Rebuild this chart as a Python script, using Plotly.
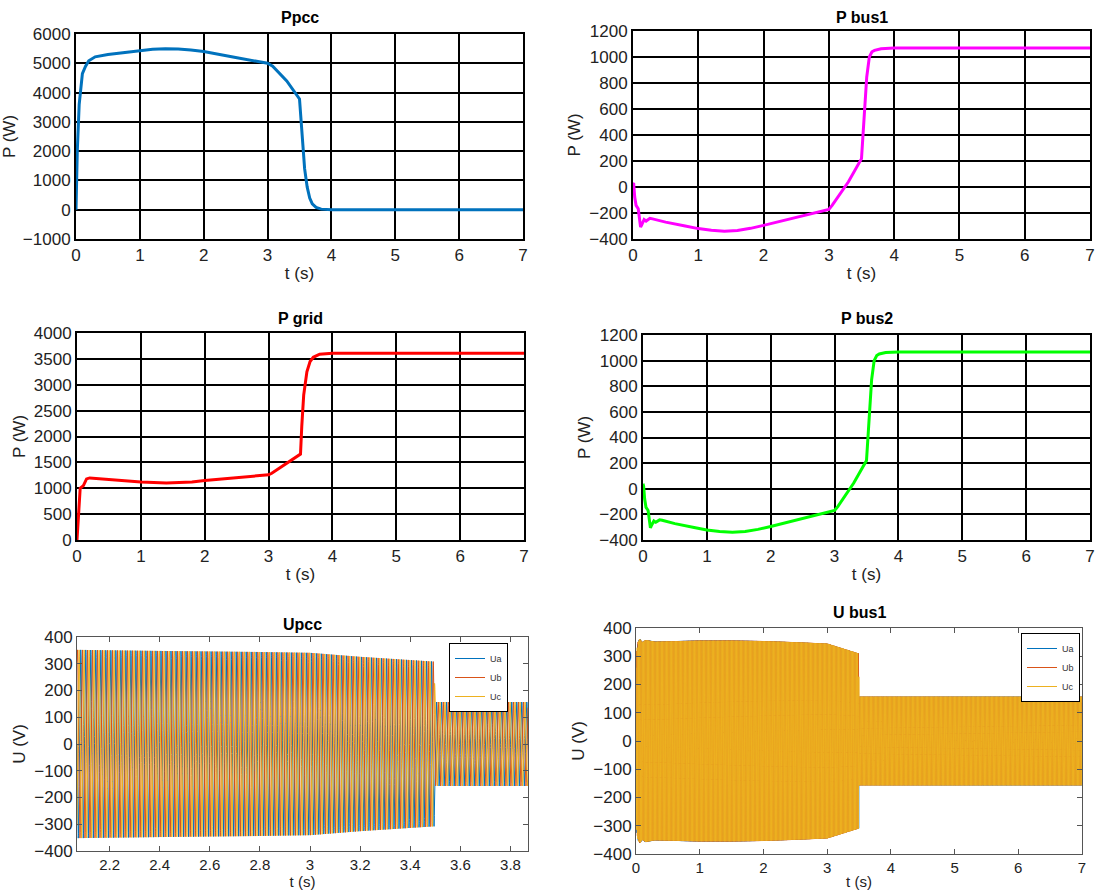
import numpy as np
import plotly.graph_objects as go

W, H = 1101, 890

# ---------------- data ----------------
t_ppcc = [0, 0.02, 0.05, 0.1, 0.15, 0.2, 0.3, 0.5, 0.8, 1.0, 1.2, 1.4, 1.6, 1.8, 2.0, 2.5,
          3.0, 3.08, 3.3, 3.5, 3.52, 3.55, 3.58, 3.62, 3.66, 3.7, 3.76, 3.84, 4.0, 5.0, 6.0, 7.0]
p_ppcc = [0, 2000, 3600, 4650, 4900, 5085, 5220, 5300, 5380, 5440, 5480, 5500, 5490, 5450, 5400, 5200,
          5000, 4900, 4400, 3780, 3100, 2200, 1400, 780, 400, 200, 80, 20, 0, 0, 0, 0]

t_bus1 = [0, 0.01, 0.026, 0.047, 0.08, 0.1, 0.116, 0.13, 0.14, 0.17, 0.2, 0.22, 0.26, 0.3, 0.35,
          0.5, 0.8, 1.0, 1.2, 1.4, 1.6, 1.8, 2.0, 2.5, 3.0, 3.05, 3.3, 3.5, 3.52, 3.55, 3.58,
          3.62, 3.66, 3.7, 3.8, 4.0, 7.0]
p_bus1 = [25, 30, -77, -141, -167, -230, -308, -295, -282, -251, -262, -256, -241, -245, -251,
          -270, -300, -320, -333, -341, -335, -318, -295, -231, -172, -141, 40, 218, 385, 641, 846,
          1000, 1040, 1051, 1064, 1069, 1069]

t_grid = [0, 0.05, 0.1, 0.15, 0.2, 0.3, 0.6, 1.0, 1.4, 1.8, 2.0, 2.5, 3.0, 3.05, 3.5, 3.52,
          3.55, 3.6, 3.65, 3.7, 3.8, 4.0, 7.0]
p_grid = [0, 1000, 1050, 1180, 1200, 1190, 1160, 1120, 1100, 1120, 1150, 1200, 1260, 1290, 1660, 2200,
          2800, 3250, 3450, 3530, 3590, 3610, 3610]

t_bus2 = [0, 0.01, 0.026, 0.047, 0.08, 0.1, 0.116, 0.13, 0.14, 0.17, 0.2, 0.22, 0.26, 0.3, 0.35,
          0.5, 0.8, 1.0, 1.2, 1.4, 1.6, 1.8, 2.0, 2.5, 3.0, 3.05, 3.3, 3.5, 3.52, 3.55, 3.58,
          3.62, 3.66, 3.7, 3.8, 4.0, 7.0]
p_bus2 = [40, 20, -80, -145, -170, -235, -305, -290, -280, -252, -262, -255, -243, -246, -252,
          -272, -302, -322, -334, -340, -334, -317, -294, -230, -170, -140, 45, 220, 390, 650, 850,
          1000, 1040, 1052, 1064, 1068, 1068]

# voltage envelopes (peak amplitude) and grid frequency
f_grid = 50.0
t_env_pcc = [2.07, 2.4, 2.8, 3.0, 3.2, 3.495, 3.5, 3.87]
a_env_pcc = [352, 348, 344, 341, 326, 308, 157, 157]
t_env_bus1 = [0, 0.03, 0.06, 0.1, 0.15, 0.3, 1.0, 1.5, 2.0, 2.5, 3.0, 3.495, 3.5, 7.0]
a_env_bus1 = [300, 350, 362, 350, 358, 352, 356, 356, 354, 350, 345, 310, 157, 157]
phase_names = ["Ua", "Ub", "Uc"]
phase_shift_deg = [0, -120, 120]
phase_colors = ["#0072BD", "#D95319", "#EDB120"]

# ---------------- layout helpers ----------------
def xd(a, b):
    return [a / W, b / W]

def yd(top, bot):
    return [1 - bot / H, 1 - top / H]

FONT = "Liberation Sans, Arial, sans-serif"
TICKC = "#222222"

boxes = {
    1: (76, 523, 34, 239),
    2: (633, 1090, 31, 239),
    3: (77, 524, 333, 540),
    4: (643, 1090, 335, 540),
    5: (77, 528, 637, 851),
    6: (636, 1082, 628, 854),
}

fig = go.Figure()

def add_line(n, x, y, color, width=3):
    fig.add_trace(go.Scatter(x=x, y=y, mode="lines", xaxis=f"x{n}", yaxis=f"y{n}",
                             line=dict(color=color, width=width), showlegend=False,
                             hoverinfo="skip"))

add_line(1, t_ppcc, p_ppcc, "#0072BD")
add_line(2, t_bus1, p_bus1, "#FF00FF")
add_line(3, t_grid, p_grid, "#FF0000")
add_line(4, t_bus2, p_bus2, "#00FF00")

def add_three_phase(n, t_env, a_env, t0, t1, pts, legend):
    t = np.linspace(t0, t1, pts)
    amp = np.interp(t, t_env, a_env)
    for name, sh, col in zip(phase_names, phase_shift_deg, phase_colors):
        u = amp * np.sin(2 * np.pi * f_grid * t + np.deg2rad(sh))
        fig.add_trace(go.Scatter(x=t, y=u, mode="lines", name=name, xaxis=f"x{n}", yaxis=f"y{n}",
                                 line=dict(color=col, width=1), legend=legend, hoverinfo="skip"))

add_three_phase(5, t_env_pcc, a_env_pcc, 2.07, 3.87, 7200, "legend")
add_three_phase(6, t_env_bus1, a_env_bus1, 0.0, 7.0, 14000, "legend2")

layout = dict(width=W, height=H, margin=dict(l=0, r=0, t=0, b=0),
              paper_bgcolor="white", plot_bgcolor="white",
              font=dict(family=FONT, size=16, color=TICKC))

grid_ax = dict(showline=True, linecolor="black", linewidth=2, mirror=True,
               showgrid=True, gridcolor="black", gridwidth=2, zeroline=False,
               ticks="", tickfont=dict(size=17, color=TICKC), automargin=False)
plain_ax = dict(showline=True, linecolor="#555555", linewidth=1, mirror="ticks",
                showgrid=False, zeroline=False, ticks="inside", ticklen=5,
                tickcolor="#555555", tickfont=dict(size=17, color=TICKC), automargin=False)

yranges = {1: [-1000, 6000], 2: [-400, 1200], 3: [0, 4000], 4: [-400, 1200],
           5: [-400, 400], 6: [-400, 400]}
ydt = {1: 1000, 2: 200, 3: 500, 4: 200, 5: 100, 6: 100}
ytitles = {1: "P (W)", 2: "P (W)", 3: "P (W)", 4: "P (W)", 5: "U (V)", 6: "U (V)"}

for n, (l, r, tp, bt) in boxes.items():
    base = grid_ax if n <= 4 else plain_ax
    xa = dict(base, domain=xd(l, r), anchor=f"y{n}",
              title=dict(text="t (s)", standoff=3, font=dict(size=17, color=TICKC)))
    if n == 5:
        xa.update(range=[2.07, 3.87], tickmode="array",
                  tickvals=[2.2, 2.4, 2.6, 2.8, 3.0, 3.2, 3.4, 3.6, 3.8],
                  ticktext=["2.2", "2.4", "2.6", "2.8", "3", "3.2", "3.4", "3.6", "3.8"])
    else:
        xa.update(range=[0, 7], dtick=1, tick0=0)
    if n >= 5:
        xa["tickfont"] = dict(size=15, color=TICKC)
        xa["title"] = dict(text="t (s)", standoff=2, font=dict(size=15, color=TICKC))
    ya = dict(base, domain=yd(tp, bt), anchor=f"x{n}", range=yranges[n], dtick=ydt[n],
              title=dict(text=ytitles[n], standoff=4, font=dict(size=17, color=TICKC)))
    layout[f"xaxis{n}"] = xa
    layout[f"yaxis{n}"] = ya

titles = {1: ("Ppcc", 17), 2: ("P bus1", 17), 3: ("P grid", 318), 4: ("P bus2", 318),
          5: ("Upcc", 624), 6: ("U bus1", 612)}
ann = []
for n, (txt, ypx) in titles.items():
    l, r, tp, bt = boxes[n]
    ann.append(dict(text=f"<b>{txt}</b>", x=(l + r) / 2 / W, y=1 - ypx / H, xref="paper",
                    yref="paper", showarrow=False, xanchor="center", yanchor="middle",
                    font=dict(size=16, color="black", family=FONT)))
layout["annotations"] = ann

leg_common = dict(bgcolor="white", bordercolor="black", borderwidth=1,
                  font=dict(size=9, color="#333333", family=FONT), itemwidth=30,
                  tracegroupgap=0, xanchor="right", yanchor="top")
layout["legend"] = dict(leg_common, x=508 / W, y=1 - 643 / H)
layout["legend2"] = dict(leg_common, x=1080 / W, y=1 - 633 / H)

fig.update_layout(**layout)
fig.write_html("out.html")
